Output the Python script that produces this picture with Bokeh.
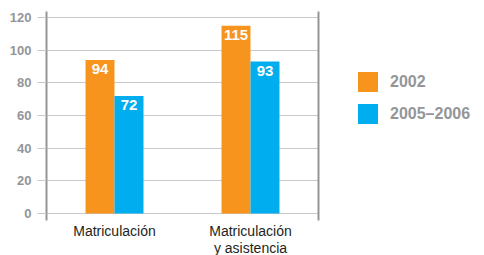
from bokeh.plotting import figure
from bokeh.layouts import row
from bokeh.models import (FactorRange, Range1d, FixedTicker, LinearAxis, Legend,
                          LegendItem, ColumnDataSource)
from bokeh.transform import dodge
from bokeh.core.properties import value
from bokeh.embed import file_html
from bokeh.resources import INLINE

categories = ["Matriculación", "Matriculación\ny asistencia"]
series_names = ["2002", "2005–2006"]
values_2002 = [94, 115]
values_2005_2006 = [72, 93]
y_ticks = [0, 20, 40, 60, 80, 100, 120]

ORANGE = "#F7941D"
BLUE = "#00AEEF"
GRAY = "#939598"
GRID = "#C8C9CB"
DARK = "#231F20"
FONT = "Liberation Sans"

Y_LO, Y_HI, Y_AXIS = -25.7, 123.67, -4.29

src = ColumnDataSource(dict(
    cat=categories,
    a=values_2002,
    b=values_2005_2006,
    la=[str(v) for v in values_2002],
    lb=[str(v) for v in values_2005_2006],
))

p = figure(x_range=FactorRange(factors=categories), y_range=Range1d(Y_LO, Y_HI),
           width=320, height=255, output_backend="svg", toolbar_location=None,
           min_border_left=46, min_border_right=2, min_border_top=11, min_border_bottom=0)
p.outline_line_color = None
p.background_fill_color = None
p.border_fill_color = None

# y axis
p.yaxis.ticker = FixedTicker(ticks=y_ticks)
p.yaxis.bounds = (Y_AXIS, Y_HI)
p.yaxis.axis_line_color = GRAY
p.yaxis.axis_line_width = 2
p.yaxis.major_tick_line_color = GRID
p.yaxis.major_tick_out = 9
p.yaxis.major_tick_in = 0
p.yaxis.minor_tick_line_color = None
p.yaxis.major_label_standoff = 6
p.yaxis.major_label_text_color = GRAY
p.yaxis.major_label_text_font = FONT
p.yaxis.major_label_text_font_style = "bold"
p.yaxis.major_label_text_font_size = "13px"
p.ygrid.ticker = FixedTicker(ticks=y_ticks)
p.ygrid.grid_line_color = GRID
p.xgrid.grid_line_color = None

# right line
ra = LinearAxis(ticker=FixedTicker(ticks=[]), bounds=(Y_AXIS, Y_HI),
                axis_line_color=GRAY, axis_line_width=2,
                major_tick_line_color=None, minor_tick_line_color=None,
                major_tick_out=0, major_tick_in=0, major_label_standoff=0,
                major_label_text_font_size="0px")
p.add_layout(ra, "right")

# x axis (drawn at the bottom of the framed area)
p.xaxis.fixed_location = Y_AXIS
p.xaxis.axis_line_color = None
p.xaxis.major_tick_line_color = None
p.xaxis.major_tick_out = 0
p.xaxis.major_label_standoff = 2
p.xaxis.major_label_text_color = DARK
p.xaxis.major_label_text_font = FONT
p.xaxis.major_label_text_font_size = "14px"
p.xaxis.major_label_text_line_height = 1.1

off = 0.1066
bw = 0.213
r1 = p.vbar(x=dodge("cat", -off, range=p.x_range), top="a", bottom=0, width=bw,
            source=src, fill_color=ORANGE, line_color=None)
r2 = p.vbar(x=dodge("cat", off, range=p.x_range), top="b", bottom=0, width=bw,
            source=src, fill_color=BLUE, line_color=None)

for col, lab, dx in (("a", "la", -off), ("b", "lb", off)):
    p.text(x=dodge("cat", dx, range=p.x_range), y=col, text=lab, source=src,
           text_align="center", text_baseline="top", y_offset=4,
           text_color="white", text_font=value(FONT), text_font_style="bold",
           text_font_size="15px")

# legend panel (its swatches sit outside the visible range; only the legend shows)
p2 = figure(x_range=Range1d(0, 1), y_range=Range1d(0, 1), width=164, height=255,
            output_backend="svg", toolbar_location=None,
            x_axis_location=None, y_axis_location=None, min_border=0)
p2.outline_line_color = None
p2.background_fill_color = None
p2.border_fill_color = None
p2.grid.grid_line_color = None
lr1 = p2.vbar(x=[5], top=[5], bottom=[4], width=0.1, fill_color=ORANGE, line_color=None)
lr2 = p2.vbar(x=[5], top=[5], bottom=[4], width=0.1, fill_color=BLUE, line_color=None)

legend = Legend(items=[LegendItem(label=series_names[0], renderers=[lr1]),
                       LegendItem(label=series_names[1], renderers=[lr2])],
                location=(35, 129), glyph_width=25, glyph_height=25, spacing=7,
                label_standoff=10, padding=0, margin=0, border_line_color=None,
                background_fill_alpha=0, label_text_font=FONT,
                label_text_font_size="16px", label_text_font_style="bold",
                label_text_color=GRAY)
p2.add_layout(legend)

open("out.html", "w").write(file_html(row(p, p2), INLINE))
